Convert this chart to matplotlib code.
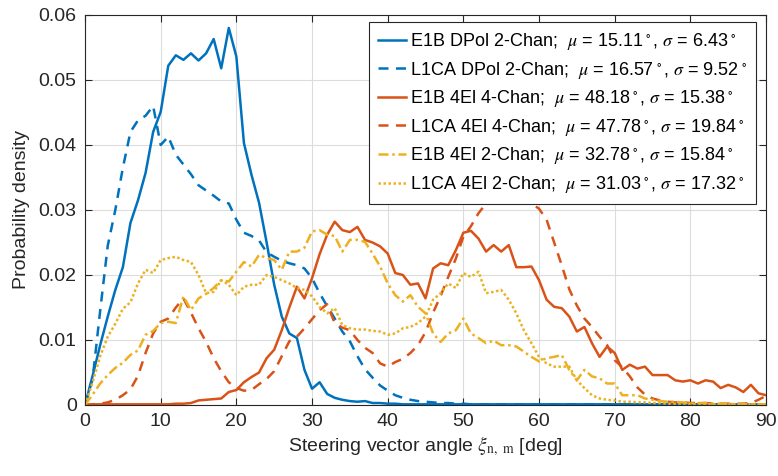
import numpy as np
import matplotlib.pyplot as plt

plt.rcParams['font.family'] = ['Liberation Sans', 'DejaVu Sans']
plt.rcParams['mathtext.fontset'] = 'stix'

# angulos en grados, pasos de 1 deg
angulo = np.arange(0, 91)

e1b_dpol_2ch = [
    0, 0.0045, 0.0092, 0.0136, 0.0177, 0.0212, 0.0280, 0.0315, 0.0357, 0.0420,
    0.0451, 0.0522, 0.0538, 0.0531, 0.0541, 0.0530, 0.0541, 0.0563, 0.0518, 0.0580,
    0.0536, 0.0403, 0.0354, 0.0311, 0.0250, 0.0185, 0.0136, 0.0110, 0.0103, 0.0054,
    0.0025, 0.0035, 0.0017, 0.0011, 0.0008, 0.0006, 0.0005, 0.0006, 0.0003, 0.0003,
    0.0002, 0.0002, 0.0001, 0.0001, 0.0001, 0.0001, 0.0001, 0.0001, 0.0001, 0.0001,
    0.0001, 0.0001, 0.0001, 0.0001, 0.0001, 0.0001, 0.0001, 0.0001, 0.0001, 0.0001,
    0.0001, 0.0001, 0.0001, 0.0001, 0.0001, 0.0001, 0.0001, 0.0001, 0.0001, 0.0001,
    0.0001, 0.0001, 0.0001, 0.0001, 0.0001, 0.0001, 0.0001, 0.0001, 0.0001, 0.0001,
    0.0001, 0.0001, 0.0001, 0.0001, 0.0001, 0.0001, 0.0001, 0.0001, 0.0001, 0.0001,
    0.0001]

l1ca_dpol_2ch = [
    0, 0.0040, 0.0145, 0.0245, 0.0300, 0.0365, 0.0420, 0.0438, 0.0445, 0.0460,
    0.0400, 0.0413, 0.0385, 0.0370, 0.0355, 0.0338, 0.0330, 0.0322, 0.0313, 0.0310,
    0.0285, 0.0265, 0.0260, 0.0253, 0.0235, 0.0228, 0.0222, 0.0218, 0.0215, 0.0210,
    0.0195, 0.0172, 0.0152, 0.0133, 0.0113, 0.0098, 0.0075, 0.0055, 0.0042, 0.0030,
    0.0022, 0.0015, 0.0011, 0.0008, 0.0006, 0.0005, 0.0004, 0.0003, 0.0003, 0.0002,
    0.0002, 0.0001, 0.0001, 0.0001, 0.0001, 0.0001, 0.0001, 0.0001, 0.0001, 0.0001,
    0.0001, 0.0001, 0.0001, 0.0001, 0.0001, 0.0001, 0.0001, 0.0001, 0.0001, 0.0001,
    0.0001, 0.0001, 0.0001, 0.0001, 0.0001, 0.0001, 0.0001, 0.0001, 0.0001, 0.0001,
    0.0001, 0.0001, 0.0001, 0.0001, 0.0001, 0.0001, 0.0001, 0.0001, 0.0001, 0.0001,
    0.0001]

e1b_4el_4ch = [
    0, 0.0001, 0.0001, 0.0001, 0.0001, 0.0001, 0.0001, 0.0001, 0.0001, 0.0001,
    0.0001, 0.0001, 0.0002, 0.0002, 0.0003, 0.0007, 0.0008, 0.0009, 0.0010, 0.0020,
    0.0023, 0.0035, 0.0043, 0.0050, 0.0072, 0.0085, 0.0115, 0.0150, 0.0182, 0.0164,
    0.0195, 0.0232, 0.0262, 0.0282, 0.0269, 0.0266, 0.0274, 0.0254, 0.0250, 0.0244,
    0.0233, 0.0203, 0.0200, 0.0185, 0.0187, 0.0164, 0.0210, 0.0218, 0.0215, 0.0238,
    0.0265, 0.0268, 0.0256, 0.0236, 0.0246, 0.0236, 0.0246, 0.0212, 0.0212, 0.0213,
    0.0192, 0.0162, 0.0151, 0.0149, 0.0136, 0.0113, 0.0120, 0.0095, 0.0074, 0.0090,
    0.0080, 0.0054, 0.0062, 0.0056, 0.0059, 0.0046, 0.0046, 0.0046, 0.0038, 0.0036,
    0.0038, 0.0033, 0.0038, 0.0036, 0.0026, 0.0031, 0.0027, 0.0020, 0.0031, 0.0018,
    0.0015]

l1ca_4el_4ch = [
    0, 0.0001, 0.0002, 0.0004, 0.0008, 0.0015, 0.0024, 0.0045, 0.0080, 0.0110,
    0.0128, 0.0133, 0.0150, 0.0164, 0.0142, 0.0118, 0.0097, 0.0072, 0.0052, 0.0035,
    0.0026, 0.0022, 0.0023, 0.0032, 0.0040, 0.0052, 0.0075, 0.0098, 0.0105, 0.0118,
    0.0132, 0.0146, 0.0155, 0.0126, 0.0119, 0.0115, 0.0100, 0.0088, 0.0080, 0.0064,
    0.0059, 0.0066, 0.0071, 0.0080, 0.0092, 0.0112, 0.0142, 0.0168, 0.0197, 0.0225,
    0.0259, 0.0275, 0.0295, 0.0310, 0.0318, 0.0320, 0.0322, 0.0320, 0.0318, 0.0310,
    0.0302, 0.0285, 0.0250, 0.0215, 0.0178, 0.0153, 0.0133, 0.0120, 0.0105, 0.0092,
    0.0069, 0.0058, 0.0044, 0.0027, 0.0016, 0.0010, 0.0007, 0.0005, 0.0004, 0.0004,
    0.0003, 0.0003, 0.0003, 0.0002, 0.0002, 0.0002, 0.0002, 0.0002, 0.0003, 0.0008,
    0.0014]

e1b_4el_2ch = [
    0, 0.0016, 0.0033, 0.0046, 0.0057, 0.0065, 0.0077, 0.0084, 0.0108, 0.0114,
    0.0126, 0.0128, 0.0126, 0.0167, 0.0146, 0.0164, 0.0171, 0.0180, 0.0192, 0.0190,
    0.0205, 0.0220, 0.0213, 0.0231, 0.0226, 0.0223, 0.0208, 0.0236, 0.0236, 0.0242,
    0.0267, 0.0269, 0.0262, 0.0260, 0.0236, 0.0254, 0.0254, 0.0251, 0.0233, 0.0213,
    0.0187, 0.0169, 0.0159, 0.0169, 0.0151, 0.0141, 0.0110, 0.0097, 0.0110, 0.0115,
    0.0133, 0.0110, 0.0103, 0.0095, 0.0099, 0.0092, 0.0092, 0.0090, 0.0082, 0.0074,
    0.0067, 0.0072, 0.0074, 0.0077, 0.0054, 0.0038, 0.0054, 0.0044, 0.0041, 0.0033,
    0.0033, 0.0015, 0.0015, 0.0015, 0.0010, 0.0008, 0.0006, 0.0005, 0.0005, 0.0004,
    0.0003, 0.0003, 0.0003, 0.0002, 0.0002, 0.0002, 0.0001, 0.0001, 0.0001, 0.0001,
    0.0001]

l1ca_4el_2ch = [
    0, 0.0035, 0.0075, 0.0105, 0.0125, 0.0148, 0.0158, 0.0187, 0.0208, 0.0203,
    0.0223, 0.0226, 0.0228, 0.0223, 0.0220, 0.0200, 0.0172, 0.0174, 0.0192, 0.0185,
    0.0169, 0.0182, 0.0185, 0.0185, 0.0200, 0.0197, 0.0192, 0.0187, 0.0180, 0.0177,
    0.0167, 0.0151, 0.0141, 0.0149, 0.0123, 0.0118, 0.0116, 0.0116, 0.0114, 0.0113,
    0.0108, 0.0110, 0.0118, 0.0120, 0.0126, 0.0136, 0.0162, 0.0172, 0.0187, 0.0180,
    0.0203, 0.0197, 0.0205, 0.0172, 0.0174, 0.0177, 0.0162, 0.0141, 0.0115, 0.0095,
    0.0074, 0.0064, 0.0059, 0.0059, 0.0059, 0.0038, 0.0026, 0.0015, 0.0010, 0.0008,
    0.0007, 0.0005, 0.0005, 0.0004, 0.0004, 0.0003, 0.0003, 0.0002, 0.0002, 0.0002,
    0.0002, 0.0001, 0.0001, 0.0001, 0.0001, 0.0001, 0.0001, 0.0001, 0.0001, 0.0001,
    0.0001]

etiquetas = [
    r'E1B DPol 2-Chan;  $\mu$ = 15.11$^{\,\circ}$, $\sigma$ = 6.43$^{\,\circ}$',
    r'L1CA DPol 2-Chan;  $\mu$ = 16.57$^{\,\circ}$, $\sigma$ = 9.52$^{\,\circ}$',
    r'E1B 4El 4-Chan;  $\mu$ = 48.18$^{\,\circ}$, $\sigma$ = 15.38$^{\,\circ}$',
    r'L1CA 4El 4-Chan;  $\mu$ = 47.78$^{\,\circ}$, $\sigma$ = 19.84$^{\,\circ}$',
    r'E1B 4El 2-Chan;  $\mu$ = 32.78$^{\,\circ}$, $\sigma$ = 15.84$^{\,\circ}$',
    r'L1CA 4El 2-Chan;  $\mu$ = 31.03$^{\,\circ}$, $\sigma$ = 17.32$^{\,\circ}$',
]

azul = '#0072BD'
naranja = '#D95319'
amarillo = '#EDB120'

fig = plt.figure(figsize=(7.78, 4.76), dpi=100)
ax = fig.add_axes([0.1093, 0.1492, 0.8753, 0.8193])

lw = 1.8
ax.plot(angulo, e1b_dpol_2ch, '-', color=azul, lw=lw, label=etiquetas[0])
ax.plot(angulo, l1ca_dpol_2ch, '--', color=azul, lw=lw, label=etiquetas[1], dashes=(4, 3))
ax.plot(angulo, e1b_4el_4ch, '-', color=naranja, lw=lw, label=etiquetas[2])
ax.plot(angulo, l1ca_4el_4ch, '--', color=naranja, lw=lw, label=etiquetas[3], dashes=(4, 3))
ax.plot(angulo, e1b_4el_2ch, '-.', color=amarillo, lw=lw, label=etiquetas[4], dashes=(4, 1.5, 1, 1.5))
ax.plot(angulo, l1ca_4el_2ch, ':', color=amarillo, lw=lw, label=etiquetas[5], dashes=(1, 1))

ax.set_xlim(0, 90)
ax.set_ylim(0, 0.06)
ax.set_xticks(np.arange(0, 91, 10))
ax.set_yticks([0, 0.01, 0.02, 0.03, 0.04, 0.05, 0.06])
ax.set_yticklabels(['0', '0.01', '0.02', '0.03', '0.04', '0.05', '0.06'])
ax.grid(True, color='#dcdcdc', lw=0.8)
ax.set_axisbelow(True)
for s in ax.spines.values():
    s.set_color('#262626')
    s.set_linewidth(0.8)
ax.tick_params(direction='in', length=5, width=0.8, colors='#262626',
               labelsize=14, top=True, right=True, pad=6)

ax.set_xlabel(r'Steering vector angle $\xi_{\mathrm{n,\ m}}$ [deg]', fontsize=14, color='#262626', labelpad=3)
ax.set_ylabel('Probability density', fontsize=14, color='#262626', labelpad=6)

leg = ax.legend(loc='upper right', bbox_to_anchor=(0.986, 0.982), borderaxespad=0,
                fontsize=13, fancybox=False, framealpha=1, edgecolor='#262626',
                handlelength=1.55, handletextpad=0.2, labelspacing=0.42,
                borderpad=0.5)
leg.get_frame().set_linewidth(0.8)

plt.savefig('out.png', dpi=100)
